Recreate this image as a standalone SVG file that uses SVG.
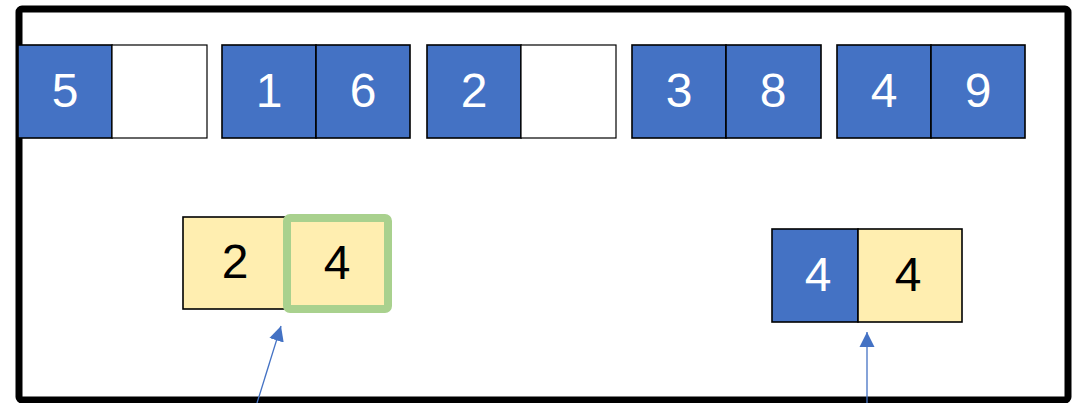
<svg xmlns="http://www.w3.org/2000/svg" width="1084" height="403" viewBox="0 0 1084 403">
<style>
.frame{fill:none;stroke:#000;stroke-width:7}
.blue{fill:#4472C4;stroke:#000;stroke-width:1.6}
.empty{fill:#fff;stroke:#000;stroke-width:1.2}
.yellow{fill:#FFEEB0;stroke:#000;stroke-width:1.6}
.hl{fill:#FFEEB0;stroke:#A9D18E;stroke-width:8}
.tw{font-family:"Liberation Sans",Arial,sans-serif;font-size:48px;fill:#fff;text-anchor:middle}
.tb{font-family:"Liberation Sans",Arial,sans-serif;font-size:48px;fill:#000;text-anchor:middle}
.conn{stroke:#4472C4;stroke-width:1.3;fill:none}
</style>
<defs>
<marker id="ah" markerUnits="userSpaceOnUse" markerWidth="16" markerHeight="16" viewBox="0 0 16 16" refX="15" refY="8" orient="auto">
<path d="M0,0.5 L15,8 L0,15.5 Z" fill="#4472C4"/>
</marker>
</defs>
<rect class="frame" x="19" y="9" width="1049" height="391" rx="3"/>
<g id="n1"><rect class="blue" x="18" y="45" width="94" height="93"/><rect class="empty" x="112" y="45" width="95" height="93"/><text class="tw" x="65" y="107">5</text></g>
<g id="n2"><rect class="blue" x="222" y="45" width="94" height="93"/><rect class="blue" x="316" y="45" width="94" height="93"/><text class="tw" x="269" y="107">1</text><text class="tw" x="363" y="107">6</text></g>
<g id="n3"><rect class="blue" x="427" y="45" width="94" height="93"/><rect class="empty" x="521" y="45" width="95" height="93"/><text class="tw" x="474" y="107">2</text></g>
<g id="n4"><rect class="blue" x="632" y="45" width="94" height="93"/><rect class="blue" x="726" y="45" width="95" height="93"/><text class="tw" x="679" y="107">3</text><text class="tw" x="773" y="107">8</text></g>
<g id="n5"><rect class="blue" x="837" y="45" width="94" height="93"/><rect class="blue" x="931" y="45" width="94" height="93"/><text class="tw" x="884" y="107">4</text><text class="tw" x="978" y="107">9</text></g>
<g id="n6"><rect class="yellow" x="183" y="217" width="104" height="92"/><rect class="hl" x="287" y="218" width="101" height="91" rx="3"/><text class="tb" x="235" y="278">2</text><text class="tb" x="337" y="279">4</text></g>
<g id="n7"><rect class="blue" x="772" y="229" width="86" height="93"/><rect class="yellow" x="858" y="229" width="104" height="93"/><text class="tw" x="818" y="291">4</text><text class="tb" x="908" y="291">4</text></g>
<g id="connectors">
<line class="conn" x1="257" y1="403" x2="281" y2="326" marker-end="url(#ah)"/>
<line class="conn" x1="867" y1="403" x2="867" y2="332" marker-end="url(#ah)"/>
</g>
</svg>
